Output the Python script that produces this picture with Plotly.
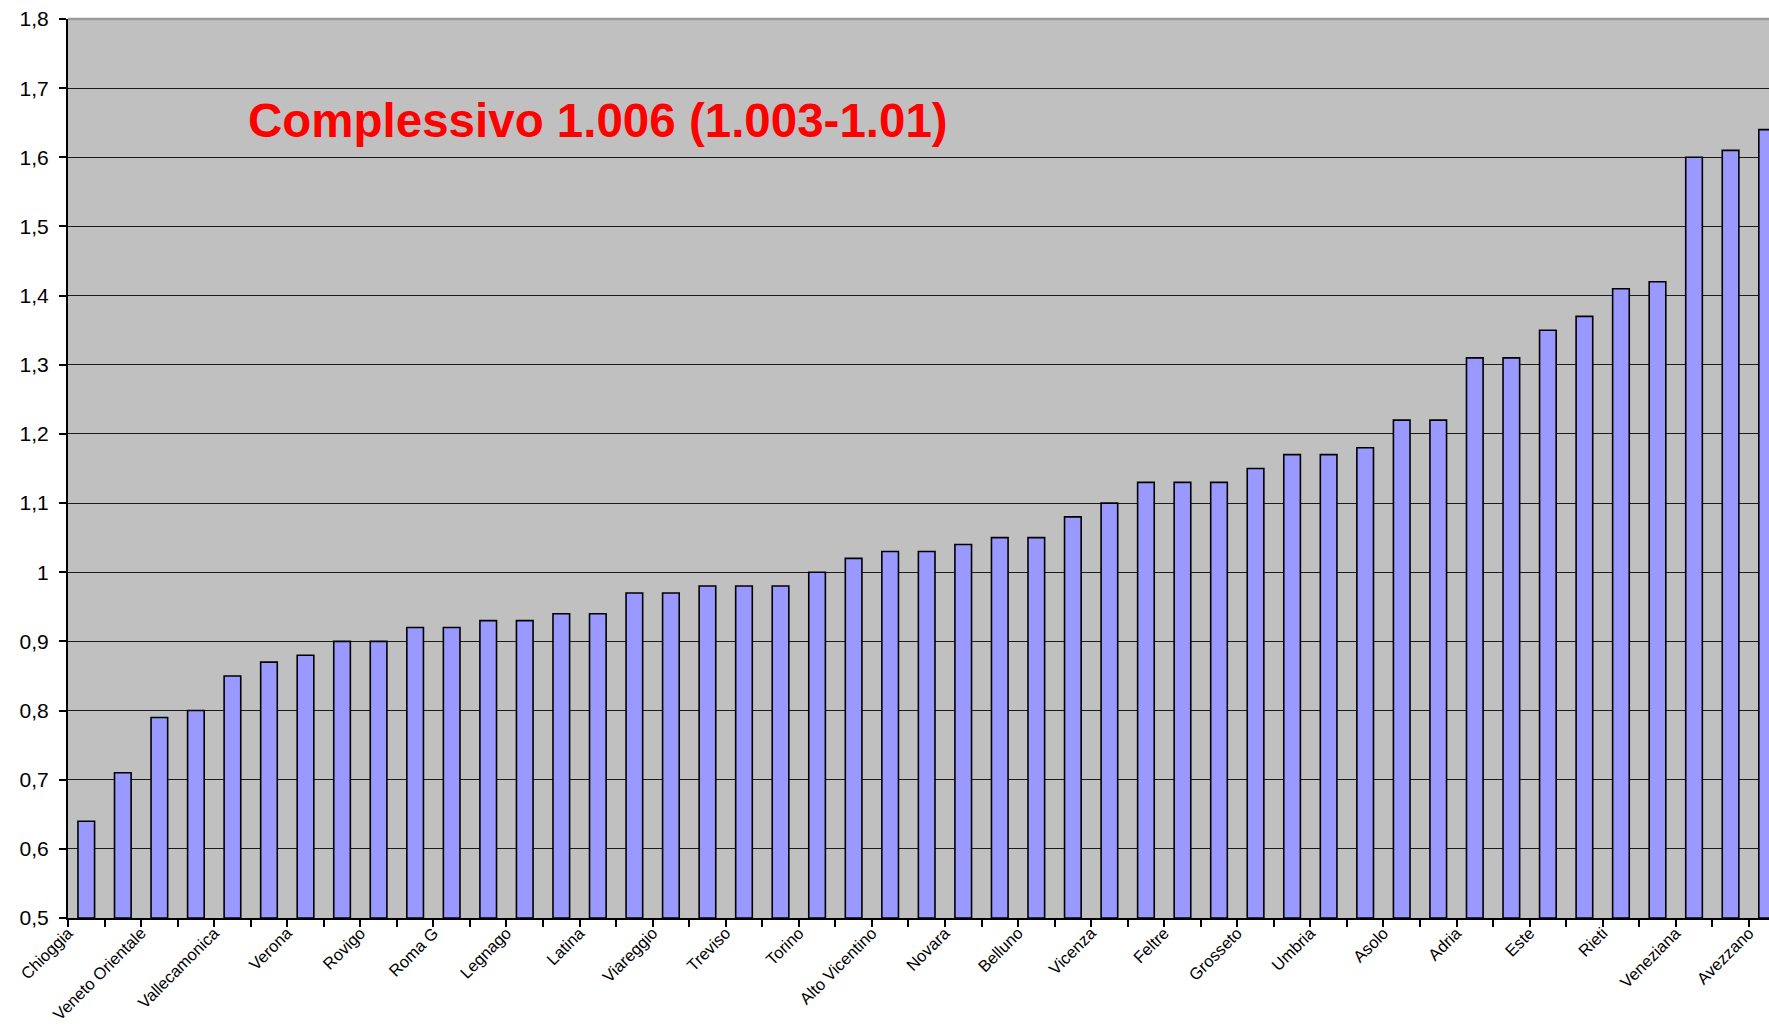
import plotly.graph_objects as go

# Labelled centres (every other bar carries a name)
labels = [
    "Chioggia", "Veneto Orientale", "Vallecamonica", "Verona", "Rovigo",
    "Roma G", "Legnago", "Latina", "Viareggio", "Treviso", "Torino",
    "Alto Vicentino", "Novara", "Belluno", "Vicenza", "Feltre", "Grosseto",
    "Umbria", "Asolo", "Adria", "Este", "Rieti", "Veneziana", "Avezzano",
]

# Ratio per centre, sorted ascending
values = [
    0.64, 0.71, 0.79, 0.80, 0.85, 0.87, 0.88, 0.90, 0.90, 0.92,
    0.92, 0.93, 0.93, 0.94, 0.94, 0.97, 0.97, 0.98, 0.98, 0.98,
    1.00, 1.02, 1.03, 1.03, 1.04, 1.05, 1.05, 1.08, 1.10, 1.13,
    1.13, 1.13, 1.15, 1.17, 1.17, 1.18, 1.22, 1.22, 1.31, 1.31,
    1.35, 1.37, 1.41, 1.42, 1.60, 1.61, 1.64,
]

y_ticks = [0.5, 0.6, 0.7, 0.8, 0.9, 1.0, 1.1, 1.2, 1.3, 1.4, 1.5, 1.6, 1.7, 1.8]
y_ticktext = ["0,5", "0,6", "0,7", "0,8", "0,9", "1", "1,1", "1,2", "1,3",
              "1,4", "1,5", "1,6", "1,7", "1,8"]

title_text = "Complessivo 1.006 (1.003-1.01)"

positions = list(range(1, len(values) + 1))
label_pos = positions[::2]
base_value = 0.5

W, H = 1769, 1027
ML, MT, MB, MR = 68, 19, 109, 0
cat_px = 36.54
x_end = 0.5 + (W - ML - MR) / cat_px

fig = go.Figure()
fig.add_trace(go.Bar(
    x=positions,
    y=[v - base_value for v in values],
    base=base_value,
    width=0.455,
    marker=dict(color="#9999FF", line=dict(color="#000000", width=1.6)),
    customdata=values,
    hovertemplate="%{customdata}<extra></extra>",
))

fig.update_layout(
    width=W,
    height=H,
    margin=dict(l=ML, r=MR, t=MT, b=MB, pad=0),
    paper_bgcolor="#FFFFFF",
    plot_bgcolor="#C0C0C0",
    showlegend=False,
    separators=",.",
    font=dict(family="Liberation Sans, Arial, sans-serif", color="#000000"),
    xaxis=dict(
        range=[0.5, x_end],
        automargin=False,
        tickmode="array",
        # labels sit at the left edge of each named category
        tickvals=[p - 0.4999 for p in label_pos],
        ticktext=labels,
        tickangle=-45,
        ticks="",
        ticklabelstandoff=-3,
        tickfont=dict(size=16.5, family="Liberation Sans, Arial, sans-serif"),
        showgrid=False,
        zeroline=False,
        showline=True,
        linecolor="#000000",
        linewidth=2,
        minor=dict(
            tickmode="linear",
            tick0=0.5,
            dtick=1,
            ticks="outside",
            ticklen=7,
            tickwidth=1.5,
            tickcolor="#000000",
            showgrid=False,
        ),
    ),
    yaxis=dict(
        range=[0.5, 1.8],
        automargin=False,
        tickmode="array",
        tickvals=y_ticks,
        ticktext=y_ticktext,
        ticks="outside",
        ticklen=7,
        tickwidth=1.5,
        tickcolor="#000000",
        ticklabelstandoff=6,
        tickfont=dict(size=21, family="Liberation Sans, Arial, sans-serif"),
        showgrid=True,
        gridcolor="#1a1a1a",
        gridwidth=1.3,
        zeroline=False,
        showline=True,
        linecolor="#000000",
        linewidth=2,
    ),
    shapes=[dict(
        type="line", xref="paper", yref="paper",
        x0=0, x1=1, y0=1, y1=1,
        line=dict(color="#9A9A9A", width=2.5),
        layer="above",
    )],
    annotations=[dict(
        text="<b>" + title_text + "</b>",
        xref="paper", yref="paper",
        x=(246 - ML) / (W - ML - MR),
        y=1 - (121 - MT) / (H - MT - MB),
        xanchor="left", yanchor="middle",
        showarrow=False,
        font=dict(size=47.5, color="#FF0000",
                  family="Liberation Sans, Arial, sans-serif"),
    )],
)

fig.write_html("out.html")
